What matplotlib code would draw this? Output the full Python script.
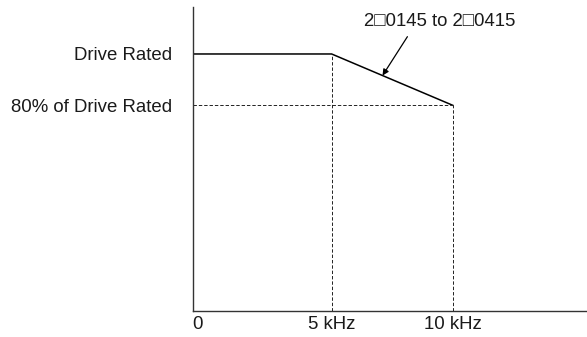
import numpy as np
import matplotlib.pyplot as plt
from matplotlib.scale import FuncScale

plt.rcParams['font.family'] = ['Liberation Sans', 'DejaVu Sans']

# derating curve (carrier frequency in kHz, output current in % of drive rated)
freq = [0, 5, 10]
current = [100, 100, 80]
xtick_vals = [0, 5, 10]
xtick_labels = ['0', '5 kHz', '10 kHz']
ytick_vals = [80, 100]
ytick_labels = ['80% of Drive Rated', 'Drive Rated']
series_label = '2\u25a10145 to 2\u25a10415'

# axis is drawn non-uniformly in the original (0-5 wider than 5-10)
knots_x = np.array([0, 5, 100])
knots_p = np.array([0, 139, 139 + 95 * 24.2])

def fwd(x):
    return np.interp(x, knots_x, knots_p)

def inv(p):
    return np.interp(p, knots_p, knots_x)

fig = plt.figure(figsize=(5.87, 3.37), dpi=100)
ax = fig.add_axes([192.5 / 587, 26.3 / 337, 394.5 / 587, 303.7 / 337])
ax.set_xscale(FuncScale(ax, (fwd, inv)))
ax.set_xlim(0, 15.54)
ax.set_ylim(0, 118.3)

ax.plot(freq, current, color='black', lw=1.1, solid_joinstyle='miter')

dash = dict(color='#222222', lw=0.7, linestyle=(0, (3.5, 2)))
ax.plot([freq[1], freq[1]], [0, current[1]], **dash)
ax.plot([freq[2], freq[2]], [0, current[2]], **dash)
ax.plot([0, freq[2]], [current[2], current[2]], **dash)

for s in ['top', 'right']:
    ax.spines[s].set_visible(False)
for s in ['left', 'bottom']:
    ax.spines[s].set_color('#333333')
    ax.spines[s].set_linewidth(1.0)

ax.set_xticks(xtick_vals)
ax.set_xticklabels(xtick_labels)
ax.set_yticks(ytick_vals)
ax.set_yticklabels(ytick_labels)
ax.tick_params(axis='both', length=0, labelsize=13.4, colors='#1a1a1a')
ax.tick_params(axis='y', pad=14.4)
ax.tick_params(axis='x', pad=4)
ax.xaxis.get_ticklabels()[0].set_horizontalalignment('left')
ax.minorticks_off()

ax.annotate(series_label, xy=(7.1, 91.6), xytext=(9.48, 112.5),
            ha='center', va='center', fontsize=13.4, color='#1a1a1a',
            family=['Liberation Sans', 'Noto Sans CJK JP', 'DejaVu Sans'],
            arrowprops=dict(arrowstyle='-|>', color='black', lw=0.9,
                            mutation_scale=9, relpos=(0.31, 0),
                            shrinkA=3, shrinkB=0))

fig.savefig('out.png', dpi=100)
